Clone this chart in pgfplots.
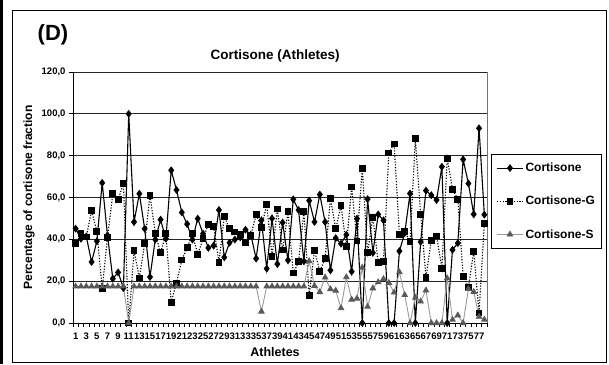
\documentclass[border=0pt]{standalone}
\usepackage{pgfplots}
\pgfplotsset{compat=1.18}
\usepackage{pgfplotstable}
\usepackage{fontspec}
\setmainfont{Liberation Sans}

\pgfplotstableread{
n C G S
1 45.1 37.8 17.5
2 40.3 42.6 17.5
3 41.4 41.1 17.5
4 29.2 53.7 17.5
5 39.1 43.8 17.5
6 67.0 16.3 17.5
7 41.9 41.0 17.5
8 21.2 61.8 17.5
9 24.2 59.0 17.5
10 16.7 66.6 17.5
11 100.0 0.0 0.0
12 48.3 34.6 17.5
13 61.8 21.5 17.5
14 45.1 37.8 17.5
15 22.0 61.1 17.5
16 39.9 43.0 17.5
17 49.4 33.5 17.5
18 40.3 42.6 17.5
19 73.0 10.0 17.5
20 63.6 19.1 17.5
21 52.9 30.1 17.5
22 47.3 35.9 17.5
23 39.9 42.7 17.5
24 49.9 32.8 17.5
25 42.7 40.2 17.5
26 35.9 47.3 17.5
27 37.0 46.0 17.5
28 54.0 29.0 17.5
29 31.4 51.0 17.5
30 38.4 45.0 17.5
31 39.9 43.5 17.5
32 41.0 42.2 17.5
33 44.6 38.4 17.5
34 42.2 41.8 17.5
35 30.8 51.8 17.5
36 49.1 45.7 5.5
37 26.0 56.6 17.5
38 50.0 31.9 17.5
39 28.2 54.5 17.5
40 48.0 34.9 17.5
41 30.0 53.1 17.5
42 59.1 23.9 17.5
43 54.0 29.2 17.5
44 29.5 53.4 17.5
45 58.5 13.1 29.6
46 48.3 34.7 17.8
47 61.4 24.7 14.8
48 48.3 30.8 21.8
49 25.2 59.5 16.2
50 40.6 45.0 15.5
51 37.9 56.2 7.1
52 42.2 36.7 21.9
53 24.6 65.0 11.2
54 49.9 39.2 11.7
55 0.0 74.0 26.5
56 59.2 33.7 7.8
57 33.6 50.6 16.6
58 51.9 29.0 19.5
59 49.1 29.5 21.1
60 0.0 81.3 19.2
61 0.0 85.6 14.6
62 34.4 42.4 24.3
63 43.0 43.7 13.4
64 61.9 38.9 0.0
65 0.0 88.0 12.1
66 38.8 51.9 10.3
67 63.3 21.8 15.6
68 61.1 39.6 0.0
69 58.8 41.6 0.0
70 74.7 26.2 0.0
71 0.0 78.7 21.4
72 35.0 63.9 1.6
73 38.2 59.2 3.7
74 78.2 22.4 0.0
75 66.7 17.0 16.3
76 52.0 34.2 14.9
77 93.1 4.8 3.0
78 51.8 47.6 1.6
}\data

\begin{document}
\begin{tikzpicture}[x=1pt,y=1pt]
\useasboundingbox (0,0) rectangle (609,-364);
\fill[black] (0,0) rectangle (3,-364);
\draw[black, line width=0.9pt] (12,-10) rectangle (606,-362);
\begin{axis}[
  at={(73pt,-323pt)}, anchor=south west,
  width=414pt, height=251pt, scale only axis,
  xmin=0.5, xmax=78.5, ymin=0, ymax=120,
  clip=false,
  axis x line*=bottom, axis y line*=left,
  axis line style={black, line width=0.9pt, -},
  xtick={1,3,...,77},
  minor xtick={0.5,1.5,...,78.5},
  ytick={0,20,...,120},
  ymajorgrids,
  major grid style={black!85, line width=0.8pt},
  tick align=outside,
  major tick length=4pt, minor tick length=4pt,
  major x tick style={draw=none},
  minor x tick style={black, line width=0.7pt},
  major y tick style={black, line width=0.7pt},
  /pgf/number format/assume math mode=true,
  tick label style={font=\bfseries\fontsize{9.5}{10}\selectfont},
  xticklabel style={yshift=-2pt},
  yticklabel style={/pgf/number format/fixed, /pgf/number format/fixed zerofill, /pgf/number format/precision=1, /pgf/number format/use comma},
  title={Cortisone (Athletes)},
  title style={font=\bfseries\fontsize{13.5}{14}\selectfont, at={(axis description cs:0.488,1.04)}, anchor=center},
  xlabel={Athletes},
  xlabel style={font=\bfseries\fontsize{12.5}{13}\selectfont, at={(axis description cs:0.488,-0.1155)}, anchor=center},
  ylabel={Percentage of cortisone fraction},
  ylabel style={font=\bfseries\fontsize{12}{13}\selectfont, at={(axis description cs:-0.106,0.5)}, anchor=center},
  legend style={at={(axis description cs:1.0097,0.675)}, anchor=north west,
    draw=black, line width=0.8pt, fill=white,
    font=\bfseries\fontsize{12}{14}\selectfont,
    inner xsep=5pt, inner ysep=7pt, row sep=19pt},
  legend cell align=left,
  legend image code/.code={\draw[mark repeat=2,mark phase=2,#1] plot coordinates {(0pt,0pt) (13pt,0pt) (26pt,0pt)};},
]
\addplot[black, line width=1.1pt, mark=diamond*, mark size=3.1pt, mark options={solid, fill=black}] table[x=n,y=C]{\data};
\addlegendentry{Cortisone}
\addplot[black, line width=1.1pt, dash pattern=on 1.2pt off 1.6pt, mark=square*, mark size=2.9pt, mark options={solid, fill=black}] table[x=n,y=G]{\data};
\addlegendentry{Cortisone-G}
\addplot[black!40, line width=0.9pt, mark=triangle*, mark size=3.1pt, mark options={solid, draw=black!65, fill=black!65}] table[x=n,y=S]{\data};
\addlegendentry{Cortisone-S}
\draw[black!55, line width=0.8pt] (rel axis cs:1,0) -- (rel axis cs:1,1);
\node[font=\bfseries\fontsize{22}{24}\selectfont, anchor=center] at (axis description cs:-0.0483,1.147) {(D)};
\end{axis}
\end{tikzpicture}
\end{document}
